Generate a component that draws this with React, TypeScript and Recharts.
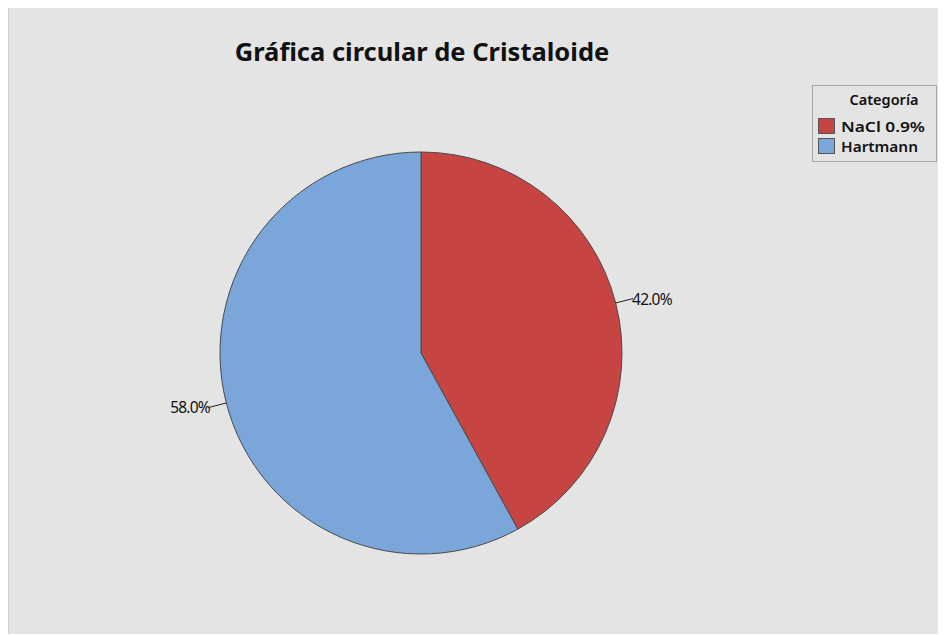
import React from "react";
import { PieChart, Pie, Cell, Legend } from "recharts";

const categories = ["NaCl 0.9%", "Hartmann"];
const values = [42.0, 58.0];
const colors = ["#c64543", "#7ba6da"];
const title = "Gráfica circular de Cristaloide";
const legendTitle = "Categoría";

const data = categories.map((name, i) => ({ name, value: values[i] }));

const RAD = Math.PI / 180;

const renderLabel = (props: any) => {
  const { cx, cy, midAngle, outerRadius, percent } = props;
  const cos = Math.cos(-midAngle * RAD);
  const sin = Math.sin(-midAngle * RAD);
  const x1 = cx + outerRadius * cos;
  const y1 = cy + outerRadius * sin;
  const x2 = cx + (outerRadius + 18) * cos;
  const y2 = cy + (outerRadius + 18) * sin;
  const right = cos >= 0;
  return (
    <g>
      <line x1={x1} y1={y1} x2={x2} y2={y2} stroke="#222" strokeWidth={1} />
      <text
        x={x2 + (right ? -1 : 1)}
        y={y2}
        textAnchor={right ? "start" : "end"}
        dominantBaseline="central"
        fontFamily="'Noto Sans', sans-serif"
        fontSize={15.5}
        fill="#111"
        letterSpacing={-0.8}
      >
        {(percent * 100).toFixed(1) + "%"}
      </text>
    </g>
  );
};

const LegendBox = () => (
  <svg width={126} height={78} style={{ display: "block" }}>
    <rect x={0.5} y={0.5} width={124} height={76} fill="#e4e4e4" stroke="#a8a8a8" />
    <text
      x={72}
      y={20}
      textAnchor="middle"
      fontFamily="'Noto Sans', sans-serif"
      fontWeight={600}
      fontSize={14.5}
      fill="#111"
    >
      {legendTitle}
    </text>
    {categories.map((c, i) => (
      <g key={c}>
        <rect x={6.5} y={33.5 + i * 20} width={16} height={15} fill={colors[i]} stroke="#555" />
        <text
          x={29}
          y={46.5 + i * 20}
          fontFamily="'Noto Sans', sans-serif"
          fontWeight={600}
          fontSize={15}
          fill="#111"
          textLength={i === 0 ? 84 : 77}
          lengthAdjust="spacingAndGlyphs"
        >
          {c}
        </text>
      </g>
    ))}
  </svg>
);

export default function App() {
  return (
    <div style={{ position: "relative", width: 938, height: 627, background: "#e4e4e4", borderLeft: "1px solid #d0d0d0", boxSizing: "border-box", marginTop: -1 }}>
      <div
        style={{
          position: "absolute",
          left: 0,
          width: 826,
          top: 27,
          textAlign: "center",
          fontFamily: "'Noto Sans', sans-serif",
          fontWeight: "bold",
          fontSize: 25.5,
          color: "#111",
        }}
      >
        {title}
      </div>
      <PieChart width={938} height={627} style={{ position: "absolute", left: 0, top: 0 }}>
        <Pie
          data={data}
          dataKey="value"
          nameKey="name"
          cx={407}
          cy={341}
          outerRadius={201}
          startAngle={90}
          endAngle={-270}
          stroke="#4a4a4a"
          strokeWidth={1}
          label={renderLabel}
          labelLine={false}
          isAnimationActive={false}
        >
          {data.map((d, i) => (
            <Cell key={d.name} fill={colors[i]} />
          ))}
        </Pie>
        <Legend
          content={() => <LegendBox />}
          wrapperStyle={{ position: "absolute", left: 803, top: 78, width: 126 }}
        />
      </PieChart>
    </div>
  );
}
